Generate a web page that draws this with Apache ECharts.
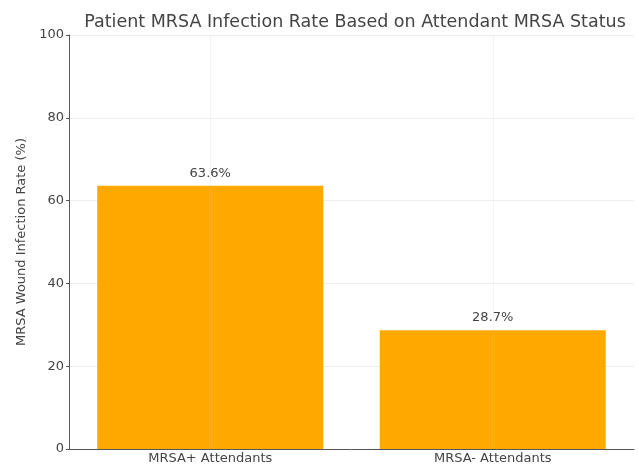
<!DOCTYPE html>
<html>
<head>
<meta charset="utf-8">
<script src="https://cdn.jsdelivr.net/npm/echarts@6/dist/echarts.min.js"></script>
<style>
	html, body { margin: 0; padding: 0; background: #fff; }
	#chart { width: 639px; height: 466px; }
</style>
</head>
<body>
<div id="chart"></div>
<script>
const categories = ["MRSA+ Attendants", "MRSA- Attendants"];
const infectionRates = [63.6, 28.7];
const yTicks = [0, 20, 40, 60, 80, 100];

const chart = echarts.init(document.getElementById("chart"));
const font = "DejaVu Sans";

chart.setOption({
	animation: false,
	textStyle: { fontFamily: font },
	title: {
		text: "Patient MRSA Infection Rate Based on Attendant MRSA Status",
		left: 350,
		top: 8,
		textAlign: "center",
		textStyle: { fontFamily: font, fontSize: 17.5, fontWeight: "normal", color: "#444" },
	},
	grid: { left: 69, right: 5, top: 35, bottom: 17 },
	xAxis: {
		type: "category",
		data: categories,
		axisLine: { lineStyle: { color: "#555", width: 1 } },
		axisTick: { alignWithLabel: true, length: 3, lineStyle: { color: "#555" } },
		axisLabel: { fontFamily: font, fontSize: 13, color: "#444", margin: 3 },
		splitLine: { show: false },
	},
	yAxis: {
		type: "value",
		min: yTicks[0],
		max: yTicks[yTicks.length - 1],
		interval: 20,
		name: "MRSA Wound Infection Rate (%)",
		nameLocation: "middle",
		nameGap: 34,
		nameRotate: 90,
		nameTextStyle: { fontFamily: font, fontSize: 13, color: "#444" },
		axisLine: { show: true, lineStyle: { color: "#555", width: 1 } },
		axisTick: { show: true, length: 3, lineStyle: { color: "#555" } },
		axisLabel: { fontFamily: font, fontSize: 13, color: "#444", margin: 5 },
		splitLine: { show: true, lineStyle: { color: "#eee", width: 1 } },
	},
	series: [
		{
			type: "bar",
			data: infectionRates,
			barWidth: "80%",
			itemStyle: { color: "#FFA800" },
			label: {
				show: true,
				position: "top",
				distance: 6,
				formatter: p => p.value.toFixed(1) + "%",
				fontFamily: font,
				fontSize: 13,
				color: "#444",
			},
			// vertical grid lines sit on the category centres, as in the source
			markLine: {
				silent: true,
				symbol: "none",
				label: { show: false },
				lineStyle: { type: "solid", color: "rgba(200,200,200,0.2)", width: 1 },
				data: categories.map(c => ({ xAxis: c })),
			},
		},
	],
});
</script>
</body>
</html>
